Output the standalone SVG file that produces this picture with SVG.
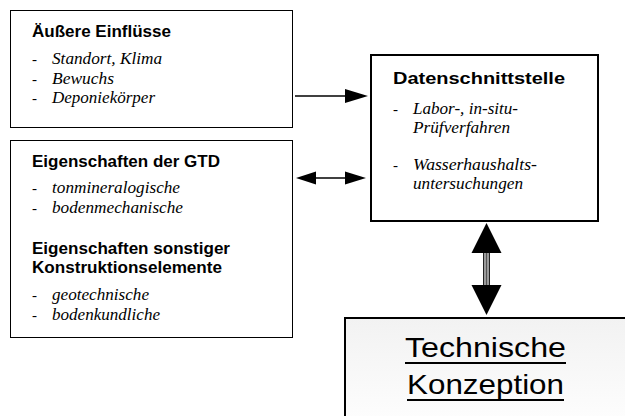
<svg xmlns="http://www.w3.org/2000/svg" width="625" height="416" viewBox="0 0 625 416">
<style>
.box{fill:#fff;stroke:#000;stroke-width:1}
.thick{stroke-width:2}
.h{font-family:"Liberation Sans",Arial,sans-serif;font-weight:bold;font-size:16px;fill:#000}
.i{font-family:"Liberation Serif","Times New Roman",serif;font-style:italic;font-size:16px;fill:#000}
.d{font-family:"Liberation Serif","Times New Roman",serif;font-size:15px;fill:#000}
.big{font-family:"Liberation Sans",Arial,sans-serif;font-size:28px;fill:#000}
.ln{stroke:#000;stroke-width:1.5;fill:none}
.hd{fill:#000}
</style>
<defs>
<linearGradient id="g4" x1="0" y1="0" x2="0" y2="1">
<stop offset="0" stop-color="#f2f2f2"/>
<stop offset="1" stop-color="#fefefe"/>
</linearGradient>
</defs>
<g id="aeussere">
<rect class="box" x="10.5" y="10.5" width="282" height="117"/>
<text class="h" x="32" y="37" textLength="139" lengthAdjust="spacingAndGlyphs">Äußere Einflüsse</text>
<text class="d" x="32" y="64">-</text>
<text class="i" x="52" y="64" textLength="110" lengthAdjust="spacingAndGlyphs">Standort, Klima</text>
<text class="d" x="32" y="84">-</text>
<text class="i" x="52" y="84" textLength="62" lengthAdjust="spacingAndGlyphs">Bewuchs</text>
<text class="d" x="32" y="103">-</text>
<text class="i" x="52" y="103" textLength="103" lengthAdjust="spacingAndGlyphs">Deponiekörper</text>
</g>
<g id="eigenschaften">
<rect class="box" x="10.5" y="140.5" width="282" height="197"/>
<text class="h" x="32" y="167" textLength="188" lengthAdjust="spacingAndGlyphs">Eigenschaften der GTD</text>
<text class="d" x="32" y="193">-</text>
<text class="i" x="52" y="193" textLength="128" lengthAdjust="spacingAndGlyphs">tonmineralogische</text>
<text class="d" x="32" y="213">-</text>
<text class="i" x="52" y="213" textLength="131" lengthAdjust="spacingAndGlyphs">bodenmechanische</text>
<text class="h" x="32" y="254" textLength="198" lengthAdjust="spacingAndGlyphs">Eigenschaften sonstiger</text>
<text class="h" x="32" y="273" textLength="190" lengthAdjust="spacingAndGlyphs">Konstruktionselemente</text>
<text class="d" x="32" y="300">-</text>
<text class="i" x="52" y="300" textLength="97" lengthAdjust="spacingAndGlyphs">geotechnische</text>
<text class="d" x="32" y="320">-</text>
<text class="i" x="52" y="320" textLength="108" lengthAdjust="spacingAndGlyphs">bodenkundliche</text>
</g>
<g id="datenschnittstelle">
<rect class="box thick" x="371" y="55" width="227" height="166"/>
<text class="h" x="393" y="84" textLength="172" lengthAdjust="spacingAndGlyphs">Datenschnittstelle</text>
<text class="d" x="393" y="114">-</text>
<text class="i" x="413" y="114" textLength="105" lengthAdjust="spacingAndGlyphs">Labor-, in-situ-</text>
<text class="i" x="413" y="133" textLength="97" lengthAdjust="spacingAndGlyphs">Prüfverfahren</text>
<text class="d" x="393" y="170">-</text>
<text class="i" x="413" y="170" textLength="124" lengthAdjust="spacingAndGlyphs">Wasserhaushalts-</text>
<text class="i" x="413" y="189" textLength="110" lengthAdjust="spacingAndGlyphs">untersuchungen</text>
</g>
<g id="technische">
<rect x="345" y="318" width="290" height="110" fill="url(#g4)" stroke="#000" stroke-width="2"/>
<text class="big" x="405" y="357" textLength="161" lengthAdjust="spacingAndGlyphs">Technische</text>
<rect x="405" y="362" width="161" height="2" fill="#000"/>
<text class="big" x="407" y="394" textLength="157" lengthAdjust="spacingAndGlyphs">Konzeption</text>
<rect x="407" y="399" width="157" height="2" fill="#000"/>
</g>
<g id="connectors">
<line class="ln" x1="295" y1="96" x2="347" y2="96"/>
<polygon class="hd" points="345,89 368,96 345,103"/>
<line class="ln" x1="314" y1="178" x2="347" y2="178"/>
<polygon class="hd" points="296,178 316,171.5 316,184.5"/>
<polygon class="hd" points="345,171.5 366,178 345,184.5"/>
<rect x="483.5" y="252" width="6" height="34" fill="#9a9a9a" stroke="#222" stroke-width="1"/>
<line x1="486.5" y1="252" x2="486.5" y2="286" stroke="#555" stroke-width="1"/>
<polygon class="hd" points="486.5,223 501.5,253 471.5,253"/>
<polygon class="hd" points="471.5,285 501.5,285 486.5,315"/>
</g>
</svg>
